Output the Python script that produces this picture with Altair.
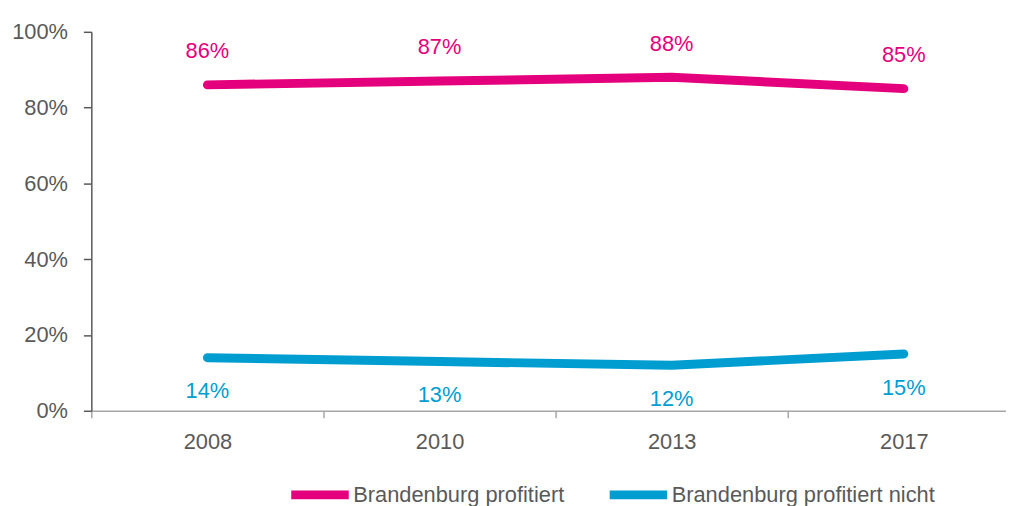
import altair as alt
import pandas as pd

years = ["2008", "2010", "2013", "2017"]
profitiert = [86, 87, 88, 85]
nicht_profitiert = [14, 13, 12, 15]
series_names = ["Brandenburg profitiert", "Brandenburg profitiert nicht"]
series_colors = ["#E4007C", "#009DD1"]

rows = []
for y, a, b in zip(years, profitiert, nicht_profitiert):
    rows.append({"year": y, "series": series_names[0], "value": a / 100})
    rows.append({"year": y, "series": series_names[1], "value": b / 100})
df = pd.DataFrame(rows)

FONT = "Liberation Sans"
GREY = "#595959"
FS = 22

x_enc = alt.X(
    "year:O",
    sort=years,
    bandPosition=0.5,
    scale=alt.Scale(type="band", range=[0, 936], paddingInner=0, paddingOuter=0),
    axis=alt.Axis(
        title=None, labelAngle=0, tickBand="extent", domainColor="#A6A6A6",
        tickColor="#A6A6A6", tickSize=7, domainWidth=1.5, tickWidth=1.5,
        labelFontSize=FS, labelColor=GREY, labelFont=FONT, labelPadding=14,
    ),
)
y_enc = alt.Y(
    "value:Q",
    scale=alt.Scale(domain=[0, 1], nice=False),
    axis=alt.Axis(
        title=None, format=".0%", values=[0, 0.2, 0.4, 0.6, 0.8, 1.0], grid=False,
        domainColor=GREY, tickColor=GREY, tickSize=8, domainWidth=1.5, tickWidth=1.5,
        labelFontSize=FS, labelColor=GREY, labelFont=FONT, labelPadding=16,
    ),
)
color_enc = alt.Color(
    "series:N",
    scale=alt.Scale(domain=series_names, range=series_colors),
    legend=alt.Legend(
        title=None, orient="none", legendX=197, legendY=433, direction="horizontal",
        symbolType="stroke", symbolStrokeWidth=9, symbolSize=3364,
        labelFontSize=FS, labelColor=GREY, labelFont=FONT, labelOffset=0,
        labelLimit=0, columnPadding=27, padding=0,
    ),
)

base = alt.Chart(df)
lines = base.mark_line(strokeWidth=9, strokeCap="round", strokeJoin="round").encode(
    x=x_enc, y=y_enc, color=color_enc
)
top_labels = base.transform_filter(alt.datum.series == series_names[0]).mark_text(
    dy=-34, fontSize=FS, font=FONT, baseline="middle"
).encode(
    x=x_enc, y=y_enc, text=alt.Text("value:Q", format=".0%"),
    color=alt.value(series_colors[0]),
)
bottom_labels = base.transform_filter(alt.datum.series == series_names[1]).mark_text(
    dy=34, fontSize=FS, font=FONT, baseline="middle"
).encode(
    x=x_enc, y=y_enc, text=alt.Text("value:Q", format=".0%"),
    color=alt.value(series_colors[1]),
)

chart = alt.layer(lines, top_labels, bottom_labels).properties(
    width=922, height=382,
    autosize=alt.AutoSizeParams(type="none"),
    padding={"left": 84, "top": 22, "right": 0, "bottom": 96},
).configure_view(stroke=None)

chart.save("out.html", embed_options={"renderer": "svg", "actions": False})
